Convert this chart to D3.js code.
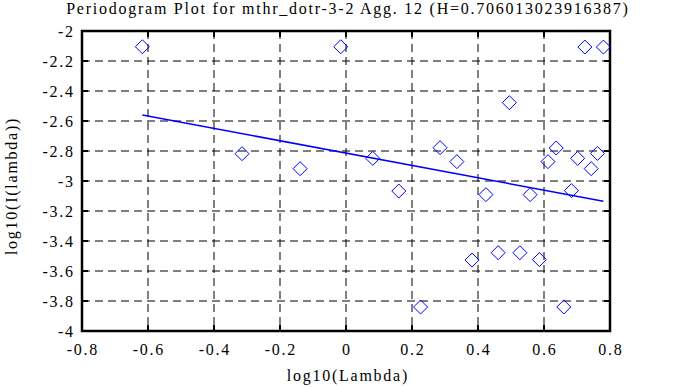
<!DOCTYPE html>
<html><head><meta charset="utf-8">
<script src="https://cdn.jsdelivr.net/npm/d3@7/dist/d3.min.js"></script>
<style>
html,body{margin:0;padding:0;background:#fff;}
</style></head>
<body><svg id="c" width="673" height="387"></svg>
<script>
const title = "Periodogram Plot for mthr_dotr-3-2 Agg. 12 (H=0.706013023916387)";
const xLabel = "log10(Lambda)";
const yLabel = "log10(I(lambda))";
const logLambda = [-0.617, -0.315, -0.139, -0.016, 0.081, 0.160, 0.226, 0.285, 0.336, 0.382,
  0.424, 0.461, 0.495, 0.527, 0.558, 0.586, 0.612, 0.637, 0.660, 0.683, 0.702, 0.724, 0.743, 0.762, 0.780];
const logI = [-2.105, -2.818, -2.918, -2.105, -2.849, -3.067, -3.84, -2.778, -2.871, -3.527,
  -3.091, -3.478, -2.478, -3.478, -3.091, -3.524, -2.871, -2.78, -3.84, -3.064, -2.849, -2.107, -2.918, -2.816, -2.107];
const fitSlope = -0.412026;
const fitIntercept = -2.814;
const xTicks = [-0.8, -0.6, -0.4, -0.2, 0, 0.2, 0.4, 0.6, 0.8];
const yTicks = [-2, -2.2, -2.4, -2.6, -2.8, -3, -3.2, -3.4, -3.6, -3.8, -4];

const FONT = "'Liberation Serif', 'Times New Roman', serif";
const FS = 16, LS = 1.75;
const L = 82, R = 610, T = 31, B = 331;
const svg = d3.select("#c");
const x = d3.scaleLinear().domain([-0.8, 0.8]).range([L, R]);
const y = d3.scaleLinear().domain([-4, -2]).range([B, T]);
const fmt = d => String(d);

const g = svg.append("g");
g.selectAll("line.gx").data(xTicks.slice(1, -1)).enter().append("line")
  .attr("x1", d => x(d)).attr("x2", d => x(d)).attr("y1", T).attr("y2", B)
  .attr("stroke", "#000").attr("stroke-width", 1).attr("stroke-dasharray", "8,5");
g.selectAll("line.gy").data(yTicks.slice(1, -1)).enter().append("line")
  .attr("y1", d => y(d)).attr("y2", d => y(d)).attr("x1", L).attr("x2", R)
  .attr("stroke", "#000").attr("stroke-width", 1).attr("stroke-dasharray", "8,5");

const tk = 6;
xTicks.forEach(d => {
  g.append("line").attr("x1", x(d)).attr("x2", x(d)).attr("y1", B).attr("y2", B - tk).attr("stroke", "#000").attr("stroke-width", 2);
  g.append("line").attr("x1", x(d)).attr("x2", x(d)).attr("y1", T).attr("y2", T + tk).attr("stroke", "#000").attr("stroke-width", 2);
});
yTicks.forEach(d => {
  g.append("line").attr("x1", L).attr("x2", L + tk).attr("y1", y(d)).attr("y2", y(d)).attr("stroke", "#000").attr("stroke-width", 2);
  g.append("line").attr("x1", R).attr("x2", R - tk).attr("y1", y(d)).attr("y2", y(d)).attr("stroke", "#000").attr("stroke-width", 2);
});

g.append("rect").attr("x", L).attr("y", T).attr("width", R - L).attr("height", B - T)
  .attr("fill", "none").attr("stroke", "#000").attr("stroke-width", 2.5);

const ext = d3.extent(logLambda);
svg.append("path")
  .attr("d", d3.line().x(d => x(d)).y(d => y(fitIntercept + fitSlope * d))(ext))
  .attr("stroke", "#0000ff").attr("stroke-width", 1.5).attr("fill", "none");

const pts = logLambda.map((v, i) => [v, logI[i]]);
const s = 7;
svg.selectAll("path.pt").data(pts).enter().append("path")
  .attr("d", d => `M${x(d[0])},${y(d[1]) - s}L${x(d[0]) + s},${y(d[1])}L${x(d[0])},${y(d[1]) + s}L${x(d[0]) - s},${y(d[1])}Z`)
  .attr("fill", "none").attr("stroke", "#0000ff").attr("stroke-width", 1);

function txt(sel) {
  return sel.attr("font-family", FONT).attr("font-size", FS).attr("letter-spacing", LS);
}
txt(svg.selectAll("text.xt").data(xTicks).enter().append("text"))
  .attr("x", d => x(d) + LS / 2).attr("y", 355).attr("text-anchor", "middle").text(fmt);
txt(svg.selectAll("text.yt").data(yTicks).enter().append("text"))
  .attr("x", 73 + LS).attr("y", d => y(d) + 5.5).attr("text-anchor", "end").text(fmt);

txt(svg.append("text")).attr("x", 347 + LS / 2).attr("y", 14).attr("text-anchor", "middle").text(title);
txt(svg.append("text")).attr("x", 347 + LS / 2).attr("y", 381).attr("text-anchor", "middle").text(xLabel);
txt(svg.append("text")).attr("transform", `translate(17,${186}) rotate(-90)`).attr("text-anchor", "middle").text(yLabel);
</script></body></html>
